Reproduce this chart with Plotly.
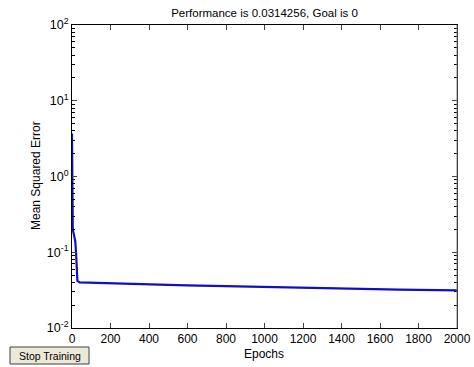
import plotly.graph_objects as go

# Data
epochs = [0, 2, 4, 10, 17, 21, 28, 40, 100, 200, 300, 400, 500, 600, 700, 800, 900,
          1000, 1100, 1200, 1300, 1400, 1500, 1600, 1700, 1800, 1900, 2000]
mse = [3.7, 0.25, 0.2, 0.17, 0.14, 0.1, 0.042, 0.0400, 0.0395, 0.0388, 0.0381, 0.0375,
       0.0370, 0.0365, 0.0360, 0.0355, 0.0351, 0.0347, 0.0343, 0.0339, 0.0335, 0.0331,
       0.0327, 0.0324, 0.0321, 0.0318, 0.0316, 0.0314256]

x_ticks = [0, 200, 400, 600, 800, 1000, 1200, 1400, 1600, 1800, 2000]
y_ticks = [0.01, 0.1, 1, 10, 100]
y_ticktext = ["10<sup>-2</sup>", "10<sup>-1</sup>", "10<sup>0</sup>", "10<sup>1</sup>", "10<sup>2</sup>"]
title_text = "Performance is 0.0314256, Goal is 0"
x_title = "Epochs"
y_title = "Mean Squared Error"
button_text = "Stop Training"

FONT = "Liberation Sans, Arial, DejaVu Sans, sans-serif"

# plot area at x 72..457, y 25..328
W, H = 474, 367
L, R, T, B = 72, 17, 25, 39
PW, PH = W - L - R, H - T - B


def px(x):  # pixel x -> paper
    return (x - L) / PW


def py(y):  # pixel y -> paper
    return (H - B - y) / PH


fig = go.Figure()
fig.add_trace(go.Scatter(x=epochs, y=mse, mode="lines",
                         line=dict(color="#1010e0", width=2.2), showlegend=False))
fig.add_trace(go.Scatter(x=epochs, y=mse, mode="lines",
                         line=dict(color="#101040", width=0.6), opacity=0.5, showlegend=False))

fig.update_layout(
    width=W, height=H,
    margin=dict(l=L, r=R, t=T, b=B, autoexpand=False),
    paper_bgcolor="white", plot_bgcolor="white",
    font=dict(family=FONT, size=12, color="black"),
    title=dict(text=title_text, x=(L + PW / 2) / W, xanchor="center",
               y=1 - 13 / H, yanchor="middle", font=dict(size=11.5)),
    xaxis=dict(range=[0, 2000], tickvals=x_ticks, ticks="inside", ticklen=5,
               showline=True, linecolor="black", linewidth=1, mirror="ticks",
               showgrid=False, zeroline=False, automargin=False,
               tickfont=dict(size=12)),
    yaxis=dict(type="log", range=[-2, 2], tickvals=y_ticks, ticktext=y_ticktext,
               ticks="inside", ticklen=5, automargin=False,
               minor=dict(ticks="inside", ticklen=3, tickcolor="black",
                          tickvals=[m * 10 ** e for e in range(-2, 2) for m in range(2, 10)]),
               showline=True, linecolor="black", linewidth=1, mirror="ticks",
               showgrid=False, zeroline=False,
               tickfont=dict(size=12.5)),
    shapes=[
        dict(type="line", xref="paper", yref="paper", x0=1, x1=1, y0=0, y1=1,
             line=dict(color="#808080", width=1)),
        dict(type="rect", xref="paper", yref="paper", x0=px(10), x1=px(89),
             y0=py(364), y1=py(347), fillcolor="#ece9d8",
             line=dict(color="#404040", width=1)),
    ],
    annotations=[
        dict(text=button_text, xref="paper", yref="paper", x=px(49.5), y=py(355.5),
             xanchor="center", yanchor="middle", showarrow=False,
             font=dict(size=10.5, color="black")),
        dict(text=x_title, xref="paper", yref="paper", x=px(264), y=py(354),
             xanchor="center", yanchor="middle", showarrow=False,
             font=dict(size=12)),
        dict(text=y_title, xref="paper", yref="paper", x=px(36), y=py(176),
             xanchor="center", yanchor="middle", showarrow=False, textangle=-90,
             font=dict(size=12)),
    ],
)

fig.write_html("out.html", config={"displayModeBar": False},
               post_script="document.body.style.margin='0';document.body.style.padding='0';document.body.style.overflow='hidden';")
